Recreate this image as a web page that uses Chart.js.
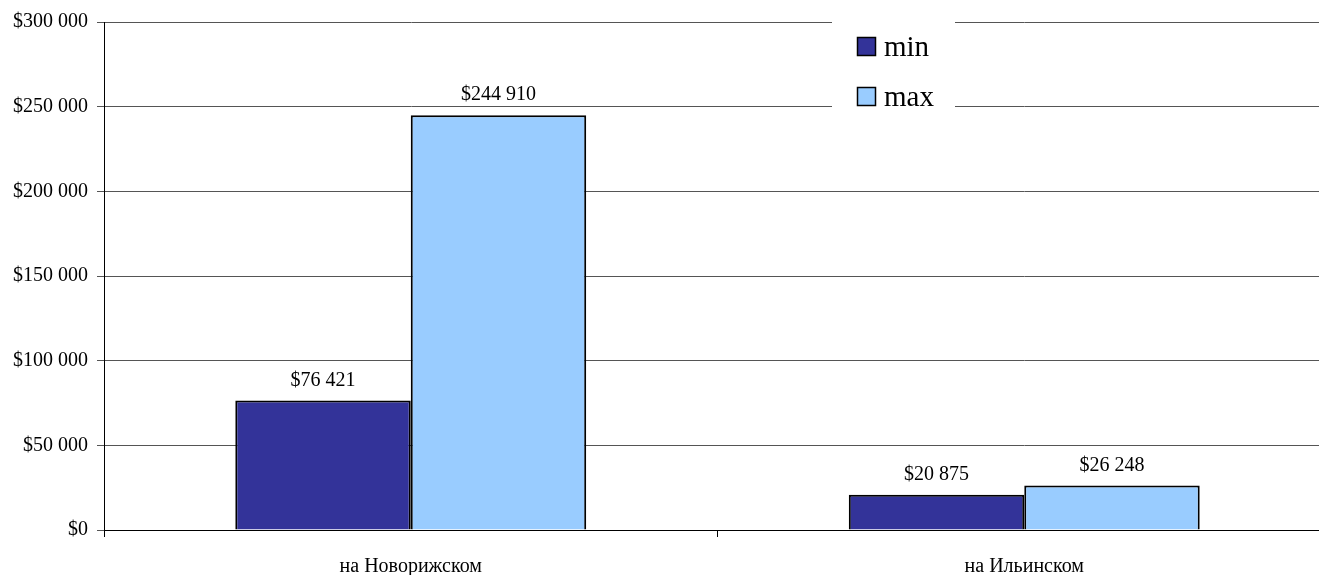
<!DOCTYPE html>
<html>
<head>
<meta charset="utf-8">
<script src="https://cdn.jsdelivr.net/npm/chart.js@4.4.0/dist/chart.umd.min.js"></script>
<style>
  html, body { margin: 0; padding: 0; background: #fff; overflow: hidden; }
  #wrap { width: 1340px; height: 575px; position: relative; }
</style>
</head>
<body>
<div id="wrap"><canvas id="chart"></canvas></div>
<script>
// categories and series
const categories = ['на Новорижском', 'на Ильинском'];
const minValues = [76421, 20875];
const maxValues = [244910, 26248];
const seriesNames = ['min', 'max'];
const seriesColors = ['#333399', '#99CCFF'];

const serif = '"Liberation Serif", "Times New Roman", serif';

function money (v) {
	return '$' + Math.round(v).toString().replace(/\B(?=(\d{3})+(?!\d))/g, ' ');
}

// value labels above every bar
const barLabels = {
	id: 'barLabels',
	afterDatasetsDraw (chart) {
		const ctx = chart.ctx;
		ctx.save();
		ctx.font = '20px ' + serif;
		ctx.fillStyle = '#000';
		ctx.textAlign = 'center';
		ctx.textBaseline = 'alphabetic';
		chart.data.datasets.forEach((ds, i) => {
			chart.getDatasetMeta(i).data.forEach((bar, j) => {
				ctx.fillText(money(ds.data[j]), bar.x, bar.y - 15);
			});
		});
		ctx.restore();
	}
};

// legend box sitting on top of the grid, upper right
const boxLegend = {
	id: 'boxLegend',
	afterDraw (chart) {
		const ctx = chart.ctx;
		const left = 832, top = 12, w = 123, h = 110;
		ctx.save();
		ctx.fillStyle = '#fff';
		ctx.fillRect(left, top, w, h);
		ctx.font = '29px ' + serif;
		ctx.textBaseline = 'middle';
		chart.data.datasets.forEach((ds, i) => {
			const y = 47 + i * 50;
			ctx.fillStyle = ds.backgroundColor;
			ctx.fillRect(857, y - 10, 18, 18);
			ctx.strokeStyle = '#000';
			ctx.lineWidth = 1.5;
			ctx.strokeRect(857.5, y - 9.5, 18, 18);
			ctx.fillStyle = '#000';
			ctx.fillText(ds.label, 884, y + 1);
		});
		ctx.restore();
	}
};

const chartEle = document.getElementById('chart').getContext('2d');

const myChart = new Chart(chartEle, {
	type: 'bar',
	data: {
		labels: categories,
		datasets: [
			{
				label: seriesNames[0],
				data: minValues,
				backgroundColor: seriesColors[0],
				borderColor: '#000',
				borderWidth: 2
			},
			{
				label: seriesNames[1],
				data: maxValues,
				backgroundColor: seriesColors[1],
				borderColor: '#000',
				borderWidth: 2
			}
		]
	},
	options: {
		responsive: true,
		maintainAspectRatio: false,
		animation: false,
		categoryPercentage: 0.572,
		barPercentage: 1.0,
		layout: {
			padding: { left: 0, right: 9, top: 22, bottom: 0 }
		},
		plugins: {
			legend: { display: false },
			tooltip: { enabled: false }
		},
		scales: {
			x: {
				grid: {
					drawOnChartArea: false,
					drawTicks: true,
					tickLength: 7,
					color: '#000'
				},
				border: { color: '#000', width: 1 },
				ticks: {
					color: '#000',
					padding: 18,
					font: { family: serif, size: 20 }
				},
				afterFit (scale) { scale.height = 45; }
			},
			y: {
				min: 0,
				max: 300000,
				grid: {
					color: '#555',
					tickLength: 7,
					lineWidth: 1
				},
				border: { color: '#000', width: 1 },
				ticks: {
					stepSize: 50000,
					color: '#000',
					padding: 9,
					font: { family: serif, size: 20 },
					callback: (v) => money(v)
				},
				afterFit (scale) { scale.width = 104; }
			}
		}
	},
	plugins: [barLabels, boxLegend]
});
</script>
</body>
</html>
